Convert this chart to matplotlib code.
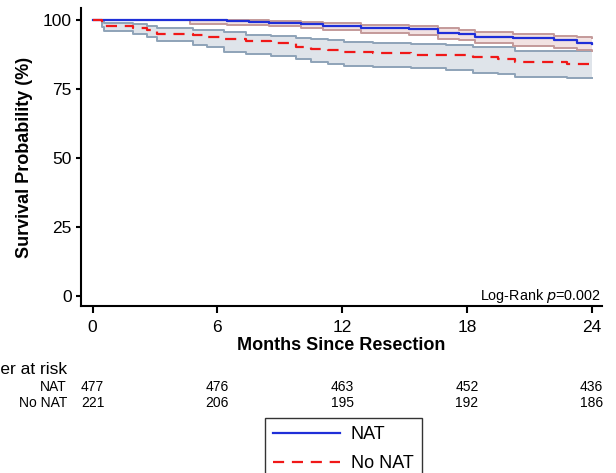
import matplotlib
matplotlib.use("Agg")
import matplotlib.pyplot as plt
from matplotlib.transforms import blended_transform_factory

plt.rcParams["font.family"] = ["Liberation Sans", "DejaVu Sans"]

# NAT group: step times (months), survival (%) and 95% CI
nat_t = [0, 4.7, 6.45, 7.5, 8.5, 10.0, 11.1, 12.9, 15.2, 16.6, 17.6, 18.4, 20.2, 22.2, 23.3, 24]
nat_s = [100, 99.8, 99.6, 99.3, 99.0, 98.4, 97.8, 97.1, 96.6, 95.4, 94.8, 93.9, 93.3, 92.6, 91.8, 91.4]
nat_lo = [100, 98.6, 98.3, 98.1, 97.8, 97.0, 96.2, 95.3, 94.7, 93.2, 92.6, 91.8, 90.6, 89.9, 89.0, 88.6]
nat_hi = [100, 100, 100, 99.9, 99.7, 99.2, 98.7, 98.2, 97.9, 96.9, 96.3, 95.6, 95.0, 94.2, 93.7, 93.6]

# No NAT group
nonat_t = [0, 0.45, 0.55, 1.95, 2.6, 3.1, 4.85, 5.5, 6.3, 7.4, 8.6, 9.8, 10.5, 11.3,
           12.1, 13.5, 15.3, 17.0, 18.3, 19.5, 20.3, 22.8, 24]
nonat_s = [100, 99.0, 97.8, 97.2, 96.2, 95.0, 94.4, 93.9, 93.2, 92.4, 91.6, 90.2, 89.6, 89.0,
           88.4, 88.0, 87.2, 87.2, 86.4, 85.8, 84.6, 84.2, 84.2]
nonat_lo = [100, 97.5, 96.0, 95.0, 93.8, 92.5, 91.0, 90.2, 88.4, 87.6, 86.8, 86.0, 84.8, 84.0,
            83.4, 83.1, 82.4, 81.8, 80.8, 80.4, 79.4, 78.8, 78.8]
nonat_hi = [100, 99.8, 99.0, 98.6, 97.8, 97.2, 96.5, 96.2, 95.6, 94.4, 94.0, 93.5, 93.0, 92.6,
            92.0, 91.6, 91.2, 90.8, 90.2, 90.0, 88.8, 88.7, 88.7]

risk_times = [0, 6, 12, 18, 24]
risk_nat = [477, 476, 463, 452, 436]
risk_nonat = [221, 206, 195, 192, 186]

fig = plt.figure(figsize=(6.16, 4.73), dpi=100)
ax = fig.add_axes([81 / 616, 1 - 306 / 473, 521 / 616, 298 / 473])

# confidence bands
ax.fill_between(nonat_t, nonat_lo, nonat_hi, step="post", color="#dfe4ea", lw=0)
ax.step(nonat_t, nonat_lo, where="post", color="#8ea3b8", lw=1.4)
ax.step(nonat_t, nonat_hi, where="post", color="#8ea3b8", lw=1.4)
ax.fill_between(nat_t, nat_lo, nat_hi, step="post", color="#f2e2e2", lw=0)
ax.step(nat_t, nat_lo, where="post", color="#c49a9a", lw=1.4)
ax.step(nat_t, nat_hi, where="post", color="#c49a9a", lw=1.4)

l1, = ax.step(nat_t, nat_s, where="post", color="#1f2fd8", lw=1.6, label="NAT")
l2, = ax.step(nonat_t, nonat_s, where="post", color="#f01818", lw=1.6,
              ls=(0, (5, 3.5)), label="No NAT")

ax.set_xlim(-0.56, 24.5)
ax.set_ylim(-3.6, 104.3)
ax.set_xticks(risk_times)
ax.set_yticks([0, 25, 50, 75, 100])
ax.spines["top"].set_visible(False)
ax.spines["right"].set_visible(False)
ax.spines["left"].set_linewidth(1.5)
ax.spines["bottom"].set_linewidth(1.5)
ax.tick_params(axis="x", length=5, width=1.5, pad=5, labelsize=12.5)
ax.tick_params(axis="y", length=3.6, width=1.5, pad=3, labelsize=12.5)

ax.set_xlabel("Months Since Resection", fontsize=13, fontweight="bold")
ax.xaxis.set_label_coords(0.5, -0.104)
ax.set_ylabel("Survival Probability (%)", fontsize=13, fontweight="bold")
ax.yaxis.set_label_coords(-0.092, 0.5)

ax.text(0.998, 10 / 298, "Log-Rank $p$=0.002", transform=ax.transAxes,
        ha="right", va="center", fontsize=10.4)

# number at risk table
tr = blended_transform_factory(ax.transData, fig.transFigure)
fig.text(67 / 616, 1 - 370 / 473, "Number at risk", ha="right", va="center", fontsize=12.5)
fig.text(67 / 616, 1 - 387 / 473, "NAT", ha="right", va="center", fontsize=10)
fig.text(67 / 616, 1 - 403 / 473, "No NAT", ha="right", va="center", fontsize=10)
for t, a, b in zip(risk_times, risk_nat, risk_nonat):
    ax.text(t, 1 - 387 / 473, str(a), transform=tr, ha="center", va="center", fontsize=10)
    ax.text(t, 1 - 403 / 473, str(b), transform=tr, ha="center", va="center", fontsize=10)

leg = fig.legend([l1, l2], ["NAT", "No NAT"], loc="upper left",
                 bbox_to_anchor=(265 / 616, 1 - 418 / 473), borderaxespad=0,
                 fontsize=13, fancybox=False, edgecolor="#333333", framealpha=1,
                 handlelength=3.7, borderpad=0.45, labelspacing=0.65, handletextpad=0.6)
leg.get_frame().set_linewidth(1.0)

plt.savefig("out.png", dpi=100)
